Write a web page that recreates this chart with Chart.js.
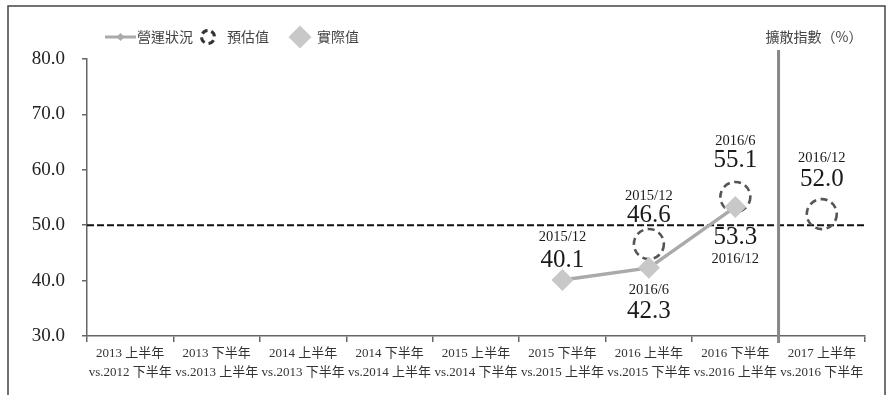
<!DOCTYPE html>
<html>
<head>
<meta charset="utf-8">
<script src="https://cdn.jsdelivr.net/npm/chart.js@4/dist/chart.umd.min.js"></script>
<style>
  html, body { margin: 0; padding: 0; background: #fff; }
  #wrap { position: relative; width: 890px; height: 395px; }
</style>
</head>
<body>
<div id="wrap"><canvas id="c" width="890" height="395"></canvas></div>
<script>
// ---- data ----
const categories = [
  ['2013 上半年', 'vs.2012 下半年'],
  ['2013 下半年', 'vs.2013 上半年'],
  ['2014 上半年', 'vs.2013 下半年'],
  ['2014 下半年', 'vs.2014 上半年'],
  ['2015 上半年', 'vs.2014 下半年'],
  ['2015 下半年', 'vs.2015 上半年'],
  ['2016 上半年', 'vs.2015 下半年'],
  ['2016 下半年', 'vs.2016 上半年'],
  ['2017 上半年', 'vs.2016 下半年']
];
const actualValues   = [null, null, null, null, null, 40.1, 42.3, 53.3, null];
const estimateValues = [null, null, null, null, null, null, 46.6, 55.1, 52.0];
const actualDates    = [null, null, null, null, null, '2015/12', '2016/6', '2016/12', null];
const estimateDates  = [null, null, null, null, null, null, '2015/12', '2016/6', '2016/12'];
const yTicks = [30, 40, 50, 60, 70, 80];
const referenceLevel = 50;
const legendLabels = ['營運狀況', '預估值', '實際值'];
const axisNote = '擴散指數（%）';

// ---- label layout (offsets from point, px): [number, date] ----
const actualLabelOffsets = { 5: [-20, -43], 6: [44, 22], 7: [31, 52] };
const estimateLabelOffsets = { 6: [-29, -48], 7: [-37, -56], 8: [-35, -56] };

const SERIF = '"Liberation Serif", "Times New Roman", "Noto Sans CJK TC", serif';
const SANS = '"Noto Sans CJK TC", "Noto Sans", sans-serif';

const decor = {
  id: 'decor',
  beforeDraw(chart) {
    const ctx = chart.ctx;
    ctx.save();
    ctx.strokeStyle = '#444';
    ctx.lineWidth = 1.5;
    ctx.strokeRect(8, 6, 877, 400);
    ctx.restore();
  },
  beforeDatasetsDraw(chart) {
    const ctx = chart.ctx;
    const x = chart.scales.x, y = chart.scales.y;
    const area = chart.chartArea;
    ctx.save();
    // reference dashed line
    const yRef = y.getPixelForValue(referenceLevel);
    ctx.strokeStyle = '#111';
    ctx.lineWidth = 2;
    ctx.setLineDash([7, 3]);
    ctx.beginPath();
    ctx.moveTo(area.left, yRef);
    ctx.lineTo(area.right, yRef);
    ctx.stroke();
    // divider between actual period and forecast period
    const xDiv = (x.getPixelForValue(7) + x.getPixelForValue(8)) / 2;
    ctx.setLineDash([]);
    ctx.strokeStyle = '#888';
    ctx.lineWidth = 3;
    ctx.beginPath();
    ctx.moveTo(xDiv, 50);
    ctx.lineTo(xDiv, area.bottom + 7);
    ctx.stroke();
    // estimate dashed circles
    const meta = chart.getDatasetMeta(1);
    ctx.strokeStyle = '#555';
    ctx.lineWidth = 2.6;
    ctx.setLineDash([7, 4.5]);
    meta.data.forEach((pt, i) => {
      if (estimateValues[i] == null) return;
      ctx.beginPath();
      ctx.arc(pt.x, pt.y, 15, 0, Math.PI * 2);
      ctx.stroke();
    });
    ctx.restore();
  },
  afterDatasetsDraw(chart) {
    const ctx = chart.ctx;
    ctx.save();
    ctx.textAlign = 'center';
    ctx.textBaseline = 'middle';
    ctx.fillStyle = '#1a1a1a';
    const drawLabels = (metaIdx, values, dates, offsets) => {
      const meta = chart.getDatasetMeta(metaIdx);
      meta.data.forEach((pt, i) => {
        if (values[i] == null) return;
        const off = offsets[i];
        ctx.font = '25px ' + SERIF;
        ctx.fillText(values[i].toFixed(1), pt.x, pt.y + off[0]);
        ctx.font = '14.5px ' + SERIF;
        ctx.fillText(dates[i], pt.x, pt.y + off[1]);
      });
    };
    drawLabels(0, actualValues, actualDates, actualLabelOffsets);
    drawLabels(1, estimateValues, estimateDates, estimateLabelOffsets);

    // legend
    const ly = 37;
    ctx.strokeStyle = '#aaa';
    ctx.lineWidth = 3;
    ctx.beginPath();
    ctx.moveTo(105, ly);
    ctx.lineTo(136, ly);
    ctx.stroke();
    ctx.fillStyle = '#aaa';
    ctx.beginPath();
    ctx.moveTo(120.5, ly - 4); ctx.lineTo(124.5, ly); ctx.lineTo(120.5, ly + 4); ctx.lineTo(116.5, ly);
    ctx.closePath(); ctx.fill();
    ctx.font = '14px ' + SANS;
    ctx.textAlign = 'left';
    ctx.fillStyle = '#444';
    ctx.fillText(legendLabels[0], 137, ly);
    ctx.strokeStyle = '#333';
    ctx.lineWidth = 3;
    ctx.setLineDash([6, 4]);
    ctx.beginPath();
    ctx.arc(208, ly, 6.5, -Math.PI / 3, Math.PI * 5 / 3);
    ctx.stroke();
    ctx.setLineDash([]);
    ctx.fillText(legendLabels[1], 227, ly);
    ctx.fillStyle = '#c8c8c8';
    ctx.beginPath();
    ctx.moveTo(300, ly - 11.5); ctx.lineTo(311.5, ly); ctx.lineTo(300, ly + 11.5); ctx.lineTo(288.5, ly);
    ctx.closePath(); ctx.fill();
    ctx.fillStyle = '#444';
    ctx.fillText(legendLabels[2], 317, ly);

    // axis note
    ctx.textAlign = 'center';
    ctx.fillText(axisNote, 814, ly);
    ctx.restore();
  }
};

new Chart(document.getElementById('c'), {
  type: 'line',
  data: {
    labels: categories,
    datasets: [
      {
        label: legendLabels[0],
        data: actualValues,
        borderColor: '#aaa',
        borderWidth: 3.5,
        pointStyle: 'rectRot',
        pointRadius: 11,
        pointHoverRadius: 11,
        pointBackgroundColor: '#c8c8c8',
        pointBorderWidth: 0,
        spanGaps: false
      },
      {
        label: legendLabels[1],
        data: estimateValues,
        showLine: false,
        pointRadius: 0,
        pointHoverRadius: 0,
        borderWidth: 0
      }
    ]
  },
  options: {
    responsive: false,
    animation: false,
    events: [],
    layout: { padding: { left: 0, top: 59, right: 25, bottom: 0 } },
    plugins: { legend: { display: false }, tooltip: { enabled: false } },
    scales: {
      x: {
        type: 'category',
        offset: true,
        grid: { offset: true, drawOnChartArea: false, drawTicks: true, tickLength: 6, color: '#666', lineWidth: 1.5 },
        border: { display: true, color: '#666', width: 1.5 },
        ticks: {
          autoSkip: false, maxRotation: 0, minRotation: 0, padding: 2,
          color: '#333',
          font: { family: SERIF, size: 13, lineHeight: 1.45 }
        },
        afterFit(scale) { scale.height = 395 - 336; }
      },
      y: {
        min: yTicks[0],
        max: yTicks[yTicks.length - 1],
        afterBuildTicks(scale) { scale.ticks = yTicks.map(v => ({ value: v })); },
        grid: { drawOnChartArea: false, drawTicks: true, tickLength: 5, color: '#666', lineWidth: 1.5 },
        border: { display: true, color: '#666', width: 1.5 },
        ticks: {
          padding: 17,
          color: '#222',
          font: { family: SERIF, size: 19 },
          callback: v => Number(v).toFixed(1)
        },
        afterFit(scale) { scale.width = 87; }
      }
    }
  },
  plugins: [decor]
});
</script>
</body>
</html>
